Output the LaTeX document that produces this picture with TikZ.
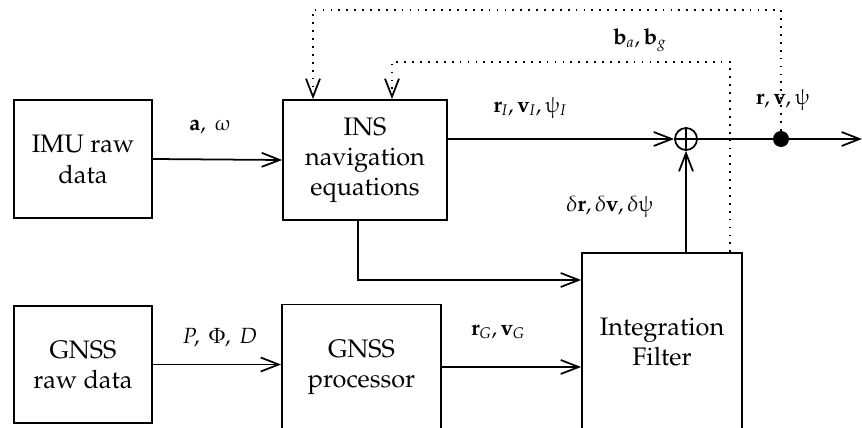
\documentclass[tikz,border=0pt]{standalone}
\usepackage[T1]{fontenc}
\usepackage{pxfonts}
\usetikzlibrary{arrows.meta, positioning, calc}

\begin{document}
\begin{tikzpicture}[
  >={Straight Barb[length=3.6mm, width=2.8mm]},
  every node/.style={font=\fontsize{14.4}{17.3}\selectfont},
  block/.style={draw, line width=1pt, align=center, inner sep=2pt},
  lbl/.style={font=\fontsize{12.5}{15}\selectfont},
  flow/.style={line width=1pt, ->},
  fb/.style={line width=1pt, dash pattern=on 1pt off 3.5pt, ->},
]

% Page frame
\useasboundingbox (0,0) rectangle (17.24,8.54);

% Blocks
\node[block, minimum width=2.76cm, minimum height=2.36cm] (imu) at (1.66,5.36) {IMU raw\\data};
\node[block, minimum width=3.28cm, minimum height=2.40cm] (ins) at (7.30,5.34) {INS\\navigation\\equations};
\node[block, minimum width=2.76cm, minimum height=2.34cm] (gnss) at (1.66,1.25) {GNSS\\raw data};
\node[block, minimum width=3.18cm, minimum height=2.50cm] (proc) at (7.23,1.20) {GNSS\\processor};
\node[block, minimum width=3.20cm, minimum height=3.56cm] (filt) at (13.24,1.70) {Integration\\Filter};

% Summing junction and branch point
\node[circle, draw, line width=1pt, minimum size=0.44cm, inner sep=0pt] (sum) at (13.72,5.76) {};
\draw[line width=1pt] (sum.north) -- (sum.south);
\draw[line width=1pt] (sum.west) -- (sum.east);
\node[circle, fill, minimum size=0.32cm, inner sep=0pt] (dot) at (15.62,5.76) {};
\coordinate (out) at (17.24,5.76);

% Signal flow
\draw[flow] (imu.east) -- (ins.west);
\draw[flow] (ins.east |- sum.west) -- (sum.west);
\draw[line width=1pt] (sum.east) -- (dot);
\draw[flow] (dot) -- (out);
\draw[flow] (filt.north -| sum.south) -- (sum.south);
\draw[flow] (gnss.east) -- (gnss.east -| proc.west);
\draw[flow] (proc.east) -- (proc.east -| filt.west);
\draw[flow] (ins.south -| 7.16,0) |- (filt.west |- 0,2.94);

% Feedback paths
\coordinate (topo) at (6.26,8.34);
\coordinate (topi) at (7.84,7.30);
\draw[fb] (dot) |- (topo) -- (topo |- ins.north);
\draw[fb] (filt.north -| 14.60,0) |- (topi) -- (topi |- ins.north);

% Signal labels
\node[lbl] (la) at (4.20,6.00) {$\mathbf{a},~\omegaup$};
\node[lbl] (lins) at (10.60,6.38) {$\mathbf{r}_I, \mathbf{v}_I, \psiup_I$};
\node[lbl] (lbias) at (12.80,7.74) {$\mathbf{b}_a, \mathbf{b}_g$};
\node[lbl] (lout) at (15.66,6.54) {$\mathbf{r}, \mathbf{v}, \psiup$};
\node[lbl] (ldel) at (12.20,4.40) {$\delta\mathbf{r}, \delta\mathbf{v}, \delta\psiup$};
\node[lbl] (lraw) at (4.40,1.78) {$P,~\Phi,~D$};
\node[lbl] (lgnss) at (9.96,1.90) {$\mathbf{r}_G, \mathbf{v}_G$};

\end{tikzpicture}
\end{document}
